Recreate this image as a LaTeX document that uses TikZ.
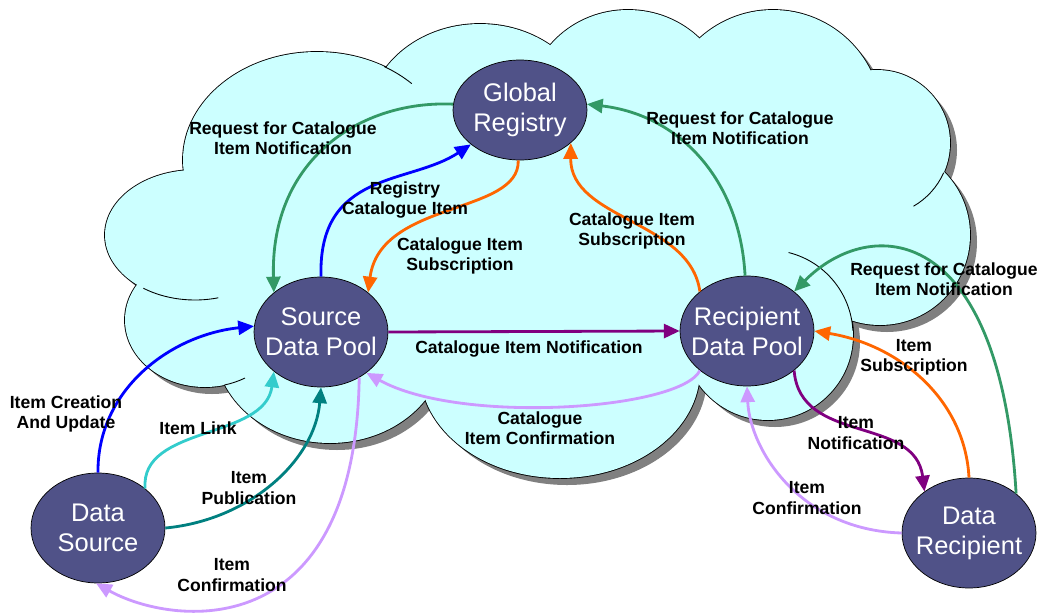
\documentclass[tikz,border=0pt]{standalone}
\usepackage{fontspec}
\setmainfont{Liberation Sans}
\usepackage{tikz}
\usetikzlibrary{shapes.geometric,arrows.meta}
\definecolor{poolblue}{RGB}{80,82,136}
\definecolor{cloudcyan}{RGB}{204,255,255}
\definecolor{shadowgray}{RGB}{128,128,128}
\definecolor{rgreen}{RGB}{51,153,102}
\definecolor{rorange}{RGB}{255,102,0}
\definecolor{rpurple}{RGB}{128,0,128}
\definecolor{lavender}{RGB}{204,153,255}
\definecolor{rcyan}{RGB}{51,204,204}
\definecolor{rteal}{RGB}{0,128,128}
\tikzstyle{pool} = [draw=black, fill=poolblue, ellipse, minimum width=2.68cm, minimum height=2.2cm, inner xsep=-10pt, inner ysep=-4pt, text=white, align=center, font={\fontsize{14.5}{17}\selectfont}]
\tikzstyle{msg} = [align=center, inner sep=0pt, font={\fontsize{10}{11.5}\selectfont\bfseries}]
\tikzstyle{flow} = [-{Triangle[length=9pt,width=8pt]}, line width=1.6pt]
\tikzstyle{crease} = [line width=0.5pt]

\begin{document}
\begin{tikzpicture}[x=0.02cm,y=-0.02cm]
    \useasboundingbox (0,0) rectangle (1042,613);
    \foreach \cx/\cy/\rx/\ry in {317/160/134/108,480/120/112/96,628/105/100/95,773/119/109/109,877/143/73/73,880/235/90/90,768/335/85/85,560/370/140/108,330/345/115/98,205/320/80/67,195/235/90/65}
        \fill[shadowgray] (\cx+7,\cy+7) ellipse [x radius=\rx, y radius=\ry];
    \foreach \cx/\cy/\rx/\ry in {317/160/134/108,480/120/112/96,628/105/100/95,773/119/109/109,877/143/73/73,880/235/90/90,768/335/85/85,560/370/140/108,330/345/115/98,205/320/80/67,195/235/90/65}
        \draw[line width=1pt] (\cx,\cy) ellipse [x radius=\rx, y radius=\ry];
    \foreach \cx/\cy/\rx/\ry in {317/160/134/108,480/120/112/96,628/105/100/95,773/119/109/109,877/143/73/73,880/235/90/90,768/335/85/85,560/370/140/108,330/345/115/98,205/320/80/67,195/235/90/65}
        \fill[cloudcyan] (\cx,\cy) ellipse [x radius=\rx, y radius=\ry];
    \fill[cloudcyan] (317,160) -- (480,120) -- (628,105) -- (773,119) -- (877,143) -- (880,235) -- (768,335) -- (560,370) -- (330,345) -- (205,320) -- (195,235) -- cycle;
    \draw[crease] (768,335) ++(-76:85) arc [start angle=-76, end angle=-3, radius=85];
    \draw[crease] (877,143) ++(24:73) arc [start angle=24, end angle=60, radius=73];
    \draw[crease] (195,235) ++(125:90 and 65) arc [start angle=125, end angle=75, x radius=90, y radius=65];
    \draw[crease] (205,320) ++(76:80 and 67) arc [start angle=76, end angle=60, x radius=80, y radius=67];
    \draw[crease] (317,160) ++(-60:134 and 108) arc [start angle=-60, end angle=-45, x radius=134, y radius=108];

    \node[pool,minimum height=2cm](0) at (520,110){Global\\Registry};
    \node[pool](1) at (321,332){Source\\Data Pool};
    \node[pool](2) at (747,331){Recipient\\Data Pool};
    \node[pool](3) at (98,528){Data\\Source};
    \node[pool](4) at (969,533){Data\\Recipient};

    \draw[flow,rgreen] (0.175) .. controls (360,100) and (270,160) .. (1.140);
    \draw[flow,blue] (1.north) .. controls (318,170) and (410,185) .. (0.215);
    \draw[flow,rorange] (0.268) .. controls (520,215) and (380,200) .. (1.40);
    \draw[flow,rgreen] (2.92) .. controls (740,180) and (680,115) .. (0.5);
    \draw[flow,rorange] (2.140) .. controls (690,220) and (570,220) .. (0.327);
    \draw[flow,rpurple] (1.east) -- (2.west);
    \draw[flow,lavender] (2.220) .. controls (680,410) and (460,425) .. (1.318);
    \draw[flow,rgreen] (4.40) .. controls (1000,220) and (870,215) .. (2.40);
    \draw[flow,rorange] (4.north) .. controls (965,400) and (900,345) .. (2.east);
    \draw[flow,rpurple] (2.320) .. controls (800,445) and (915,415) .. (4.137);
    \draw[flow,lavender] (4.west) .. controls (800,530) and (750,450) .. (2.south);
    \draw[flow,blue] (3.north) .. controls (97,390) and (170,335) .. (1.175);
    \draw[flow,rcyan] (3.40) .. controls (140,425) and (265,440) .. (1.220);
    \draw[flow,rteal] (3.east) .. controls (250,520) and (315,460) .. (1.south);
    \draw[flow,lavender] (1.310) .. controls (355,650) and (170,625) .. (3.268);

    \node[msg](l1) at (283,138){Request for Catalogue\\Item Notification};
    \node[msg](l2) at (405,200){Registry\\Catalogue Item};
    \node[msg](l3) at (460,256){Catalogue Item\\Subscription};
    \node[msg](l4) at (740,128){Request for Catalogue\\Item Notification};
    \node[msg](l5) at (632,231){Catalogue Item\\Subscription};
    \node[msg](l6) at (529,349){Catalogue Item Notification};
    \node[msg](l7) at (540,428){Catalogue\\Item Confirmation};
    \node[msg](l8) at (944,279){Request for Catalogue\\Item Notification};
    \node[msg](l9) at (914,357){Item\\Subscription};
    \node[msg](l10) at (856,433){Item\\Notification};
    \node[msg](l11) at (807,498){Item\\Confirmation};
    \node[msg](l12) at (66,414){Item Creation\\And Update};
    \node[msg](l13) at (198,428){Item Link};
    \node[msg](l14) at (249,488){Item\\Publication};
    \node[msg](l15) at (232,575){Item\\Confirmation};
\end{tikzpicture}
\end{document}
